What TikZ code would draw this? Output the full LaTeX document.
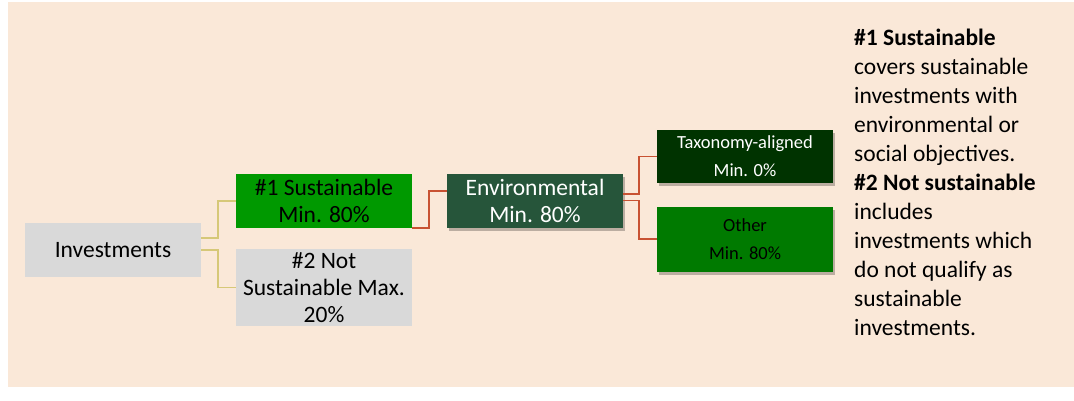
\documentclass[tikz,border=0pt]{standalone}
\usepackage{fontspec}
\setmainfont{Carlito}
\usetikzlibrary{shadows}
\definecolor{peach}{RGB}{250,232,216}
\definecolor{boxgray}{RGB}{217,217,217}
\definecolor{sgreen}{RGB}{0,153,0}
\definecolor{envgreen}{RGB}{38,85,58}
\definecolor{taxgreen}{RGB}{0,51,0}
\definecolor{othgreen}{RGB}{0,122,0}
\definecolor{yline}{RGB}{214,200,120}
\definecolor{rline}{RGB}{200,82,50}
\begin{document}
\begin{tikzpicture}[x=1pt,y=-1pt,
  box/.style={inner sep=0pt, minimum width=176pt, align=center, font=\fontsize{23.5}{27}\selectfont},
  smallbox/.style={box, font=\fontsize{18.5}{28}\selectfont},
  shade/.style={drop shadow={shadow xshift=2pt, shadow yshift=-3pt, opacity=0.25, fill=black}},
  yl/.style={draw=yline, line width=1.8pt},
  rl/.style={draw=rline, line width=1.8pt}]
\useasboundingbox (0,0) rectangle (1074,400);
\fill[white] (0,0) rectangle (1074,400);
\fill[peach] (8,2) rectangle (1074,387);
\node[box, fill=boxgray, minimum height=54pt] (inv) at (113,250) {Investments};
\node[box, fill=sgreen, minimum height=54pt] (s1) at (324,201) {\#1 Sustainable\\Min. 80\%};
\node[box, fill=boxgray, minimum height=77pt] (s2) at (324,287.5) {\#2 Not\\Sustainable Max.\\20\%};
\node[box, shade, fill=envgreen, text=white, minimum height=54pt] (env) at (535,201) {Environmental\\Min. 80\%};
\node[smallbox, shade, fill=taxgreen, text=white, minimum height=53pt] (tax) at (745,156.5) {Taxonomy-aligned\\Min. 0\%};
\node[smallbox, shade, fill=othgreen, text=black, minimum height=65pt] (oth) at (745,239) {Other\\Min. 80\%};
\draw[yl] ([yshift=12pt]inv.east) -- ++(17,0) |- (s1.west);
\draw[yl] (inv.east) -- ++(17,0) |- (s2.west);
\draw[rl] (s1.south east) -- ++(17,0) |- ([yshift=10pt]env.west);
\draw[rl] ([yshift=7pt]env.east) -- ++(16,0) |- (tax.west);
\draw[rl] ([yshift=0.5pt]env.east) -- ++(16,0) |- (oth.west);
\node[anchor=north west, inner sep=0pt, align=left, font=\fontsize{23.5}{29}\selectfont] (legend) at (854,28.5)
{\textbf{\#1 Sustainable}\\covers sustainable\\investments with\\environmental or\\social objectives.\\\textbf{\#2 Not sustainable}\\includes\\investments which\\do not qualify as\\sustainable\\investments.};
\end{tikzpicture}
\end{document}
